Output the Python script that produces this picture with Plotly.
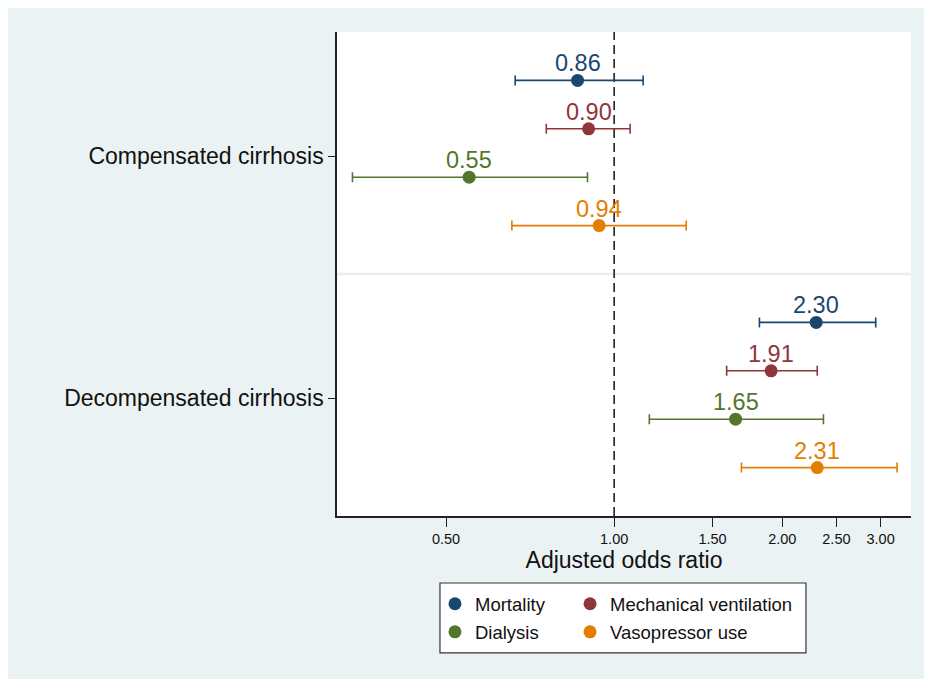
import plotly.graph_objects as go
import math

groups = ["Compensated cirrhosis", "Decompensated cirrhosis"]
outcomes = ["Mortality", "Mechanical ventilation", "Dialysis", "Vasopressor use"]
colors = ["#1a476f", "#90353b", "#55752f", "#e37e00"]

or_comp = [0.86, 0.90, 0.55, 0.94]
lo_comp = [0.665, 0.756, 0.340, 0.656]
hi_comp = [1.127, 1.068, 0.896, 1.346]

or_decomp = [2.30, 1.91, 1.65, 2.31]
lo_decomp = [1.82, 1.59, 1.156, 1.69]
hi_decomp = [2.94, 2.31, 2.37, 3.21]

xtick_vals = [0.5, 1.0, 1.5, 2.0, 2.5, 3.0]
xtick_text = ["0.50", "1.00", "1.50", "2.00", "2.50", "3.00"]

FONT = "Liberation Sans, Arial, Helvetica, sans-serif"
PANEL = "#eaf2f3"

fig = go.Figure()
annotations = []
for i, name in enumerate(outcomes):
    xs = [or_comp[i], or_decomp[i]]
    los = [lo_comp[i], lo_decomp[i]]
    his = [hi_comp[i], hi_decomp[i]]
    ys = [1 + i, 6 + i]
    fig.add_trace(go.Scatter(
        x=xs, y=ys, name=name,
        mode="markers",
        marker=dict(size=13, color=colors[i]),
        error_x=dict(type="data", symmetric=False,
                     array=[h - x for h, x in zip(his, xs)],
                     arrayminus=[x - l for x, l in zip(xs, los)],
                     color=colors[i], thickness=1.6, width=5),
        legend="legend" if i % 2 == 0 else "legend2",
        legendgroup=name,
        cliponaxis=False,
    ))
    for xv, yv in zip(xs, ys):
        annotations.append(dict(
            x=math.log10(xv), y=yv, xref="x", yref="y",
            text=f"{xv:.2f}", showarrow=False, yshift=17,
            font=dict(size=23.5, color=colors[i], family=FONT),
        ))

shapes = [
    dict(type="line", xref="paper", yref="y", x0=0, x1=1, y0=5, y1=5,
         line=dict(color="#e6eff2", width=2.5), layer="below"),
    dict(type="line", xref="x", yref="paper", x0=1, x1=1, y0=0, y1=1,
         line=dict(color="#222222", width=1.6, dash="9px,5px"), layer="below"),
    dict(type="rect", xref="paper", yref="paper", x0=0.1794, x1=0.817, y0=-0.283, y1=-0.1384,
         fillcolor="white", line=dict(color="#333333", width=1.2), layer="below"),
]

fig.update_layout(
    width=932, height=679,
    margin=dict(l=329, r=29, t=24, b=171),
    paper_bgcolor=PANEL,
    plot_bgcolor="white",
    shapes=shapes,
    annotations=annotations,
    font=dict(family=FONT, color="#111111"),
    xaxis=dict(type="log", range=[math.log10(0.319), math.log10(3.40)],
               tickvals=xtick_vals, ticktext=xtick_text,
               tickfont=dict(size=14.5, color="#111111"),
               ticks="outside", ticklen=9, tickwidth=1, tickcolor="#222222",
               showline=True, linecolor="#222222", linewidth=1.5,
               showgrid=False, zeroline=False,
               title=dict(text="Adjusted odds ratio", font=dict(size=23, color="#111111"), standoff=1)),
    yaxis=dict(range=[10, 0], tickvals=[2.57, 7.57], ticktext=groups,
               tickfont=dict(size=23, color="#111111"),
               ticks="outside", ticklen=7, tickwidth=1, tickcolor="#222222",
               showline=True, linecolor="#222222", linewidth=1.5,
               showgrid=False, zeroline=False),
    legend=dict(x=0.1707, y=-0.143, xanchor="left", yanchor="top",
                bgcolor="rgba(0,0,0,0)", borderwidth=0, tracegroupgap=1,
                font=dict(size=18.5, color="#111111", family=FONT)),
    legend2=dict(x=0.406, y=-0.143, xanchor="left", yanchor="top",
                 bgcolor="rgba(0,0,0,0)", borderwidth=0, tracegroupgap=1,
                 font=dict(size=18.5, color="#111111", family=FONT)),
    showlegend=True,
)

fig.write_html("out.html")
